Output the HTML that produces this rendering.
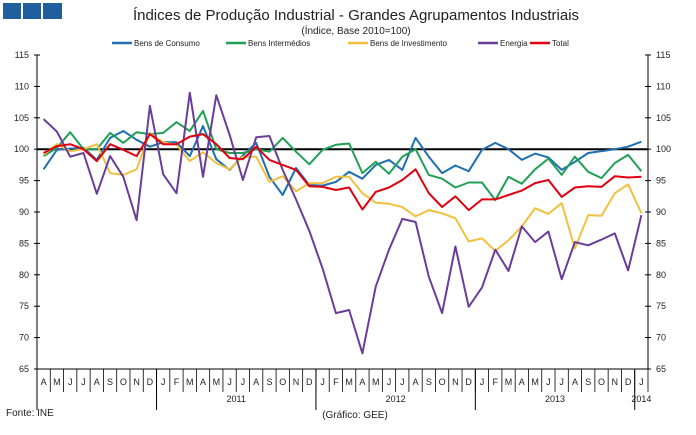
<!DOCTYPE html>
<html><head><meta charset="utf-8"><style>
body{margin:0;background:#fff;font-family:"Liberation Sans",sans-serif}
svg text{font-family:"Liberation Sans",sans-serif}
</style></head><body>
<svg id="chart" width="696" height="430" xmlns="http://www.w3.org/2000/svg">
<g>
<rect x="3" y="3" width="18" height="16" fill="#1f5fa0"/><rect x="23" y="3" width="18" height="16" fill="#1f5fa0"/><rect x="43" y="3" width="19" height="16" fill="#1f5fa0"/>
</g>
<text x="356" y="20" font-size="15" text-anchor="middle" fill="#222">Índices de Produção Industrial - Grandes Agrupamentos Industriais</text>
<text x="356" y="34" font-size="10" text-anchor="middle" fill="#222">(Índice, Base 2010=100)</text>
<g id="legend"></g>
<g id="axes"></g>
<g id="series"></g>
<text x="6" y="416" font-size="10" fill="#222">Fonte: INE</text>
<text x="355" y="418" font-size="10" text-anchor="middle" fill="#222">(Gráfico: GEE)</text>
</svg>
<script>
const months=["A","M","J","J","A","S","O","N","D","J","F","M","A","M","J","J","A","S","O","N","D","J","F","M","A","M","J","J","A","S","O","N","D","J","F","M","A","M","J","J","A","S","O","N","D","J"];
const yearLabels=["2011","2012","2013","2014"];
const yTicks=[65,70,75,80,85,90,95,100,105,110,115];
const seriesNames=["Bens de Consumo","Bens Intermédios","Bens de Investimento","Energia","Total"];
const seriesColors=["#1f6fb0","#1fa055","#f0c040","#6a3d9a","#e00010"];
const consumo=[96.8,99.9,100.1,100.2,98.3,101.8,102.9,101.5,100.4,101.1,101.1,98.9,103.7,98.4,96.7,99,101,95.6,92.7,97,94.3,94.2,94.8,96.4,95.3,97.5,98.3,96.7,101.8,98.8,96.2,97.4,96.5,99.9,101,100,98.3,99.3,98.7,96.7,98,99.4,99.7,100,100.4,101.2];
const intermedios=[98.9,100.2,102.7,100,100,102.6,101,102.7,102.4,102.6,104.3,102.9,106.1,100,99.4,99.4,100,99.6,101.8,99.6,97.6,99.9,100.7,100.9,96.2,98,96.1,98.8,100,95.9,95.3,93.9,94.7,94.7,91.9,95.6,94.5,96.8,98.5,95.9,98.8,96.4,95.4,97.8,99.1,96.5];
const investimento=[99.1,100.8,99.7,100,100.8,96.2,95.9,96.8,102.6,101.1,100.7,98.1,99.5,97.8,96.8,98.8,98.8,94.8,95.7,93.3,94.6,94.6,95.6,95.6,93,91.5,91.3,90.8,89.3,90.3,89.8,89,85.3,85.8,83.8,85.5,87.7,90.6,89.7,91.4,84.2,89.5,89.4,93,94.4,89.8];
const energia=[104.8,102.8,98.8,99.4,92.9,98.9,95.6,88.7,106.9,96,93,109,95.6,108.6,102.3,95.1,101.9,102.1,96.7,92,87,81,73.9,74.4,67.5,78.1,84,88.9,88.4,79.7,73.9,84.5,74.9,78,84,80.6,87.7,85.2,86.9,79.3,85.2,84.7,85.6,86.6,80.7,89.5];
const total=[99.4,100.5,100.8,100,98.1,100.8,99.9,98.9,102.4,100.8,100.8,102,102.4,100.8,98.6,98.4,100.4,98.3,97.5,96.7,94.1,94,93.5,93.9,90.4,93.2,93.9,95.1,96.8,93,90.8,92.5,90.3,92,92,92.7,93.4,94.6,95.1,92.4,93.9,94.1,94,95.7,95.5,95.6];
const allSeries=[consumo,intermedios,investimento,energia,total];

const NS="http://www.w3.org/2000/svg";
const L=37,R=648,T=55,B=369,ymin=65,ymax=115;
const bw=(R-L)/months.length;
const xs=i=>L+bw*(i+0.5);
const ys=v=>T+(ymax-v)*(B-T)/(ymax-ymin);
function mk(tag,attrs,parent){const e=document.createElementNS(NS,tag);for(const k in attrs)e.setAttribute(k,attrs[k]);parent.appendChild(e);return e;}
const axes=document.getElementById('axes');
const la=mk('line',{x1:L,y1:T,x2:L,y2:B,stroke:'#000','stroke-width':1},axes);

const ra=mk('line',{x1:R,y1:T,x2:R,y2:B,stroke:'#000','stroke-width':1},axes);

yTicks.forEach(v=>{
  const y=ys(v);
  mk('line',{x1:L-3,y1:y,x2:L+3,y2:y,stroke:'#000'},axes);
  mk('line',{x1:R-3,y1:y,x2:R+3,y2:y,stroke:'#000'},axes);
  const t1=mk('text',{x:29,y:y+3,'font-size':9,'text-anchor':'end',fill:'#222'},axes);t1.textContent=v;
  
  const t2=mk('text',{x:656,y:y+3,'font-size':9,fill:'#222'},axes);t2.textContent=v;
  
});
const xa=mk('line',{x1:L,y1:B,x2:R,y2:B,stroke:'#000'},axes);

months.forEach((m,i)=>{
  const x0=L+bw*i;
  mk('line',{x1:x0,y1:B,x2:x0,y2:392,stroke:'#000','stroke-width':0.8},axes);
  const t=mk('text',{x:xs(i),y:385,'font-size':9,'text-anchor':'middle',fill:'#222'},axes);t.textContent=m;
  
});
mk('line',{x1:R,y1:B,x2:R,y2:392,stroke:'#000','stroke-width':0.8},axes);
const yearStarts=[9,21,33,45];
yearStarts.forEach((s,k)=>{
  const x0=L+bw*s;
  mk('line',{x1:x0,y1:B,x2:x0,y2:410,stroke:'#000','stroke-width':1},axes);
  const end=k<3?yearStarts[k+1]:46;
  const t=mk('text',{x:L+bw*(s+end)/2,y:402,'font-size':9,'text-anchor':'middle',fill:'#222'},axes);t.textContent=yearLabels[k];
  
});
mk('line',{x1:L,y1:B,x2:L,y2:410,stroke:'#000'},axes);
const bl=mk('line',{x1:L,y1:ys(100),x2:R,y2:ys(100),stroke:'#000','stroke-width':2},axes);

const sg=document.getElementById('series');
const snames=['consumo-line','intermedios-line','investimento-line','energia-line','total-line'];
allSeries.forEach((d,k)=>{
  const p=mk('polyline',{points:d.map((v,i)=>xs(i).toFixed(1)+','+ys(v).toFixed(1)).join(' '),fill:'none',stroke:seriesColors[k],'stroke-width':2,'stroke-linejoin':'round'},sg);
  
  
});
const lg=document.getElementById('legend');
const lx=[112,226,348,478,530];
seriesNames.forEach((n,k)=>{
  const g=mk('g',{},lg);
  
  
  mk('line',{x1:lx[k],y1:43,x2:lx[k]+20,y2:43,stroke:seriesColors[k],'stroke-width':2.5},g);
  const t=mk('text',{x:lx[k]+22,y:46,'font-size':8,fill:'#222'},g);t.textContent=n;
});
</script>
</body></html>
